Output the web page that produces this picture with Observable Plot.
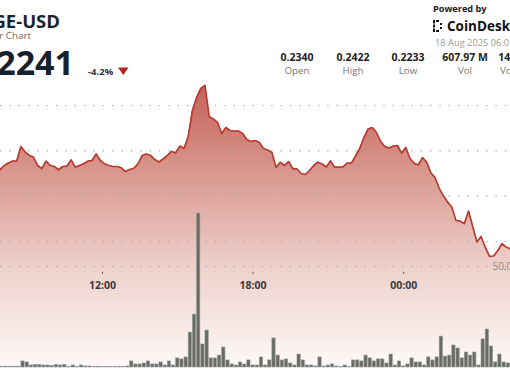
<!DOCTYPE html>
<html><head><meta charset="utf-8">
<script src="https://cdn.jsdelivr.net/npm/d3@7"></script>
<script src="https://cdn.jsdelivr.net/npm/@observablehq/plot@0.6"></script>
<style>
html,body{margin:0;padding:0;background:#fff;}
#chart{position:relative;width:510px;height:369px;overflow:hidden;background:#fff;font-family:"Open Sans",sans-serif;}
#chart svg{position:absolute;left:0;overflow:hidden;}
</style></head><body><div id="chart"></div>
<script>
// ---- header texts ----
const symbol = "DOGE-USD";
const chartKind = "1 Year Chart";
const lastPrice = "0.2241";
const changePct = "-4.2%";
const statValues = ["0.2340", "0.2422", "0.2233", "607.97 M", "141.62 M"];
const statLabels = ["Open", "High", "Low", "Vol", "Vol (USD)"];
const poweredBy = "Powered by";
const brand = "CoinDesk";
const stamp = "18 Aug 2025 06:07 UTC";

// ---- price series: 10-minute samples starting at priceStart ----
const priceStart = "2025-08-17T07:55:00Z";
const prices = [
  0.23291, 0.23338, 0.23366, 0.23388, 0.23388, 0.23548, 0.23487, 0.23449, 0.23432, 0.23338,
  0.23305, 0.23386, 0.23338, 0.23327, 0.23291, 0.23327, 0.23331, 0.23399, 0.23320, 0.23338,
  0.23357, 0.23386, 0.23393, 0.23465, 0.23393, 0.23357, 0.23338, 0.23327, 0.23327, 0.23313,
  0.23272, 0.23294, 0.23308, 0.23357, 0.23449, 0.23465, 0.23449, 0.23404, 0.23377, 0.23410,
  0.23449, 0.23493, 0.23478, 0.23553, 0.23526, 0.23658, 0.23945, 0.24088, 0.24188, 0.24222,
  0.23879, 0.23851, 0.23813, 0.23691, 0.23757, 0.23724, 0.23719, 0.23719, 0.23691, 0.23625,
  0.23603, 0.23614, 0.23592, 0.23526, 0.23509, 0.23482, 0.23316, 0.23375, 0.23338, 0.23382,
  0.23302, 0.23300, 0.23250, 0.23239, 0.23283, 0.23338, 0.23375, 0.23355, 0.23322, 0.23388,
  0.23320, 0.23320, 0.23324, 0.23364, 0.23364, 0.23443, 0.23526, 0.23647, 0.23741, 0.23757,
  0.23702, 0.23603, 0.23548, 0.23531, 0.23553, 0.23559, 0.23474, 0.23537, 0.23415, 0.23364,
  0.23344, 0.23426, 0.23375, 0.23256, 0.23206, 0.23085, 0.23004, 0.22934, 0.22881, 0.22732,
  0.22724, 0.22695, 0.22836, 0.22666, 0.22495, 0.22555, 0.22437, 0.22335, 0.22340, 0.22401,
  0.22475, 0.22437, 0.22420, 0.22467
];

// ---- volume series (millions), 10-minute buckets starting at volStart ----
const volStart = "2025-08-17T07:55:00Z";
const volumes = [
  0.4, 0.4, 0.4, 0.4, 0.4, 3.0, 2.5, 1.0, 1.2, 1.2,
  1.0, 1.0, 0.8, 1.2, 1.0, 1.2, 0.3, 1.0, 0.3, 1.0,
  0.5, 0.5, 0.3, 0.4, 0.3, 0.2, 0.3, 0.2, 0.3, 0.3,
  0.5, 3.0, 1.5, 1.5, 2.0, 3.0, 1.5, 1.5, 2.5, 1.0,
  3.0, 1.0, 4.5, 4.0, 5.0, 17.3, 26.2, 76.2, 11.4, 18.3,
  4.5, 4.5, 5.9, 9.9, 3.5, 1.5, 1.0, 2.5, 1.5, 3.5,
  1.0, 1.0, 5.0, 1.0, 3.5, 14.4, 5.9, 3.5, 4.0, 2.0,
  1.0, 6.4, 3.5, 1.0, 1.0, 0.5, 5.0, 0.5, 1.0, 1.5,
  0.5, 0.3, 1.0, 0.3, 3.5, 3.5, 3.0, 5.9, 4.5, 3.0,
  4.0, 4.0, 2.0, 6.4, 1.0, 3.0, 0.5, 1.5, 4.5, 2.5,
  2.5, 1.0, 5.0, 3.5, 5.0, 15.3, 5.4, 5.9, 10.9, 9.4,
  4.5, 7.4, 5.9, 7.4, 1.0, 13.9, 18.8, 10.4, 2.5, 6.4,
  2.5, 2.0
];

// ---- scales / ticks ----
const xDomain = ["2025-08-17T07:56:10Z", "2025-08-18T04:15:20Z"];
const priceDomain = [0.211103, 0.251581];
const volDomain = [0, 181.7];
const priceGrid = [0.225, 0.23, 0.235, 0.24];
const volGrid = [50];
const timeTicks = ["2025-08-17T12:00:00Z", "2025-08-17T18:00:00Z", "2025-08-18T00:00:00Z"];

const step = 10 * 60 * 1000;
const t0 = +new Date(priceStart), v0 = +new Date(volStart);
const priceData = prices.map((p, i) => ({t: new Date(t0 + i * step), p}));
const volData = volumes.map((v, i) => ({t1: new Date(v0 + i * step), t2: new Date(v0 + (i + 1) * step), v}));
const xd = xDomain.map(d => new Date(d));
const root = document.getElementById("chart");
const font = {fontFamily: '"Open Sans", sans-serif', fontSize: "10px", background: "transparent"};

// price layer
const pricePlot = Plot.plot({
  width: 510, height: 369, marginTop: 0, marginRight: 0, marginBottom: 2, marginLeft: 0,
  style: font,
  x: {type: "utc", domain: xd, axis: null},
  y: {domain: priceDomain, axis: null},
  marks: [
    Plot.areaY(priceData, {x: "t", y1: priceDomain[0], y2: "p", fill: "url(#priceFade)"}),
    Plot.ruleY(priceGrid, {stroke: "#a4a4a4", strokeWidth: 1.2, strokeDasharray: "1.3 8.05"}),
    Plot.lineY(priceData, {x: "t", y: "p", stroke: "#b83b30", strokeWidth: 1.7, strokeLinejoin: "round"})
  ]
});
const ns = "http://www.w3.org/2000/svg";
const defs = document.createElementNS(ns, "defs");
defs.innerHTML = `<linearGradient id="priceFade" gradientUnits="userSpaceOnUse" x1="0" y1="80" x2="0" y2="367">
  <stop offset="0" stop-color="#c45e54"/>
  <stop offset="0.33" stop-color="#d99990"/>
  <stop offset="0.66" stop-color="#efd2cd"/>
  <stop offset="1" stop-color="#fdf9f8"/></linearGradient>`;
pricePlot.prepend(defs);
pricePlot.style.top = "0px";
root.appendChild(pricePlot);

// volume layer
const volPlot = Plot.plot({
  width: 510, height: 369, marginTop: 0, marginRight: 0, marginBottom: 2, marginLeft: 0,
  style: font,
  x: {type: "utc", domain: xd, axis: null},
  y: {domain: volDomain, axis: null},
  marks: [
    Plot.ruleY(volGrid, {stroke: "#a4a4a4", strokeWidth: 1.2, strokeDasharray: "1.3 8.05"}),
    Plot.rectY(volData, {x1: "t1", x2: "t2", y: "v", fill: "#676c65", stroke: "#959993", strokeWidth: 0.6, insetLeft: 0.45, insetRight: 0.45}),
    Plot.axisY(volGrid, {anchor: "right", label: null, tickSize: 0, tickPadding: -18, textAnchor: "start",
      tickFormat: d => d3.format(",")(d * 1e6), fill: "#8d8d8d", fontSize: 10})
  ]
});
volPlot.style.top = "0px";
root.appendChild(volPlot);

// time axis layer
const axisPlot = Plot.plot({
  width: 510, height: 30, marginTop: 0, marginRight: 0, marginBottom: 28, marginLeft: 0,
  style: font,
  x: {type: "utc", domain: xd, axis: null},
  marks: [
    Plot.axisX(timeTicks.map(d => new Date(d)), {anchor: "bottom", label: null, tickSize: 2, tickPadding: 7,
      tickFormat: d3.utcFormat("%H:%M"), fontWeight: "bold", fontSize: 10.5, fill: "#3a3a3a", stroke: "#666"})
  ]
});
axisPlot.style.top = "270px";
root.appendChild(axisPlot);

// header layer
const head = document.createElementNS(ns, "svg");
head.setAttribute("width", 510); head.setAttribute("height", 80);
head.style.top = "0px";
head.style.fontFamily = '"Open Sans", sans-serif';
const statX = [297, 353, 408, 465, 521];
head.innerHTML = `
  <text x="60" y="28" text-anchor="end" font-size="18.5" font-weight="bold" fill="#1b2431">${symbol}</text>
  <text x="31" y="38.5" text-anchor="end" font-size="9.8" fill="#6a6a6a">${chartKind}</text>
  <text x="74" y="75" text-anchor="end" font-size="34" font-weight="bold" fill="#17202c">${lastPrice}</text>
  <text x="88" y="74.5" font-size="9.5" font-weight="bold" fill="#333">${changePct}</text>
  <path d="M118,67.5 L128.5,67.5 L123.3,75 Z" fill="#b3261c"/>
  <text x="433" y="12" font-size="9.2" font-weight="bold" fill="#1a1a1a">${poweredBy}</text>
  <g fill="#111">
    <rect x="433" y="20" width="2" height="3.5"/><rect x="433" y="24.5" width="2" height="3"/><rect x="433" y="28.5" width="2" height="3.5"/>
    <rect x="436" y="20" width="3" height="2"/><rect x="436" y="30" width="3" height="2"/>
    <rect x="440" y="23" width="2" height="2"/><rect x="440" y="27" width="2" height="2"/>
  </g>
  <text x="447" y="31" font-size="13.5" font-weight="bold" fill="#111">${brand}</text>
  <text x="435" y="46" font-size="9.3" fill="#9b9b9b">${stamp}</text>
  ${statValues.map((v, i) => `<text x="${statX[i]}" y="61" text-anchor="middle" font-size="10.5" font-weight="bold" fill="#222">${v}</text>`).join("")}
  ${statLabels.map((v, i) => `<text x="${statX[i]}" y="74" text-anchor="middle" font-size="9.8" fill="#777">${v}</text>`).join("")}
`;
root.appendChild(head);
</script>
</body></html>
